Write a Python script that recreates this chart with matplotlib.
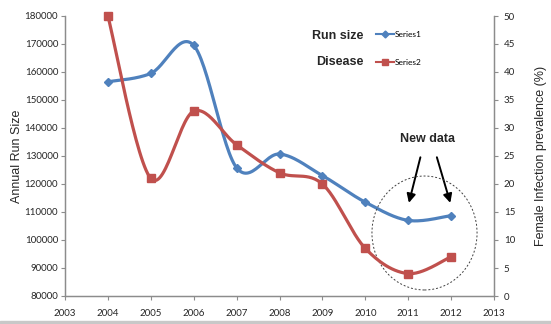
import numpy as np
import matplotlib
matplotlib.use("Agg")
import matplotlib.pyplot as plt
from matplotlib.patches import Ellipse, Rectangle

years = [2004, 2005, 2006, 2007, 2008, 2009, 2010, 2011, 2012]
run_size = [156500, 159500, 169500, 125800, 130700, 123000, 113500, 107000, 108700]
disease = [50, 21, 33, 27, 22, 20, 8.5, 4, 7]

xticks = list(range(2003, 2014))
left_ticks = list(range(80000, 180001, 10000))
right_ticks = list(range(0, 51, 5))

BLUE = "#4F81BD"
RED = "#C0504D"
GREY = "#8c8c8c"
TXT = "#262626"


def smooth(x, y, n=30):
    # Excel-style smoothed line: cubic bezier with catmull-rom control points
    p = np.column_stack([x, y]).astype(float)
    ext = np.vstack([p[0], p, p[-1]])
    out = []
    t = np.linspace(0, 1, n)[:, None]
    for i in range(len(p) - 1):
        p0, p3 = p[i], p[i + 1]
        p1 = p0 + (ext[i + 2] - ext[i]) / 6
        p2 = p3 - (ext[i + 3] - ext[i + 1]) / 6
        seg = ((1 - t) ** 3) * p0 + 3 * ((1 - t) ** 2) * t * p1 + 3 * (1 - t) * t ** 2 * p2 + t ** 3 * p3
        out.append(seg if i == 0 else seg[1:])
    s = np.vstack(out)
    return s[:, 0], s[:, 1]


plt.rcParams["font.family"] = ["Lato", "DejaVu Sans"]

fig = plt.figure(figsize=(5.51, 3.24), dpi=100)
ax = fig.add_axes([65 / 551, 1 - 296 / 324, (494 - 65) / 551, (296 - 16) / 324])
ax2 = ax.twinx()

sx, sy = smooth(years, run_size)
ax.plot(sx, sy, color=BLUE, lw=2.3, solid_capstyle="round", zorder=3)
ax.plot(years, run_size, ls="none", marker="D", ms=4.5, color=BLUE, zorder=4)

dx, dy = smooth(years, disease)
ax2.plot(dx, dy, color=RED, lw=2.3, solid_capstyle="round", zorder=3, clip_on=False)
ax2.plot(years, disease, ls="none", marker="s", ms=6, color=RED, zorder=4, clip_on=False)

ax.set_xlim(2003, 2013)
ax.set_ylim(80000, 180000)
ax2.set_ylim(0, 50)
ax.set_xticks(xticks)
ax.set_yticks(left_ticks)
ax2.set_yticks(right_ticks)

for a in (ax, ax2):
    a.spines["top"].set_visible(False)
    for side in ("left", "bottom", "right"):
        a.spines[side].set_color(GREY)
        a.spines[side].set_linewidth(0.9)
    a.tick_params(colors=GREY, labelcolor=TXT, labelsize=7, length=3, width=0.8, direction="out")
ax.tick_params(axis="x", pad=6)
ax.tick_params(axis="y", pad=2)
ax2.tick_params(axis="y", pad=4)

ax.set_ylabel("Annual Run Size", fontsize=9, family="Liberation Sans", color=TXT, labelpad=1)
ax2.set_ylabel("Female Infection prevalence (%)", fontsize=9, family="Liberation Sans",
               color=TXT, labelpad=14)

# legend-like labels
ax.text(2009.95, 172900, "Run size", ha="right", va="center", fontsize=9, fontweight="bold",
        family="Liberation Sans", color=TXT)
ax.text(2009.95, 163600, "Disease", ha="right", va="center", fontsize=9, fontweight="bold",
        family="Liberation Sans", color=TXT)
h1, = ax.plot([], [], color=BLUE, lw=1.5, marker="D", ms=3.5)
h2, = ax.plot([], [], color=RED, lw=1.5, marker="s", ms=4.5)
ax.legend([h1, h2], ["Series1", "Series2"], loc="upper left",
          bbox_to_anchor=(376 / 551, 1 - 31 / 324), bbox_transform=fig.transFigure,
          frameon=False, fontsize=6, handlelength=2.1, handletextpad=0.2,
          labelspacing=2.5, borderpad=0, borderaxespad=0)

# new data callout
ax.text(2011.46, 136000, "New data", ha="center", va="center", fontsize=9, fontweight="bold",
        family="Liberation Sans", color=TXT)
for x0, x1 in ((2011.3, 2011.0), (2011.65, 2012.0)):
    ax.annotate("", xy=(x1, 112300), xytext=(x0, 130500),
                arrowprops=dict(arrowstyle="-|>", color="black", lw=1.4, mutation_scale=13))
ax.add_patch(Ellipse((2011.38, 102500), 2.45, 40700, fill=False, ls=(0, (2, 2)),
                     lw=0.7, ec="#404040", zorder=5))

fig.add_artist(Rectangle((0, 0), 1, 3 / 324, transform=fig.transFigure, color="#c8c8c8"))

fig.savefig("out.png", dpi=100)
